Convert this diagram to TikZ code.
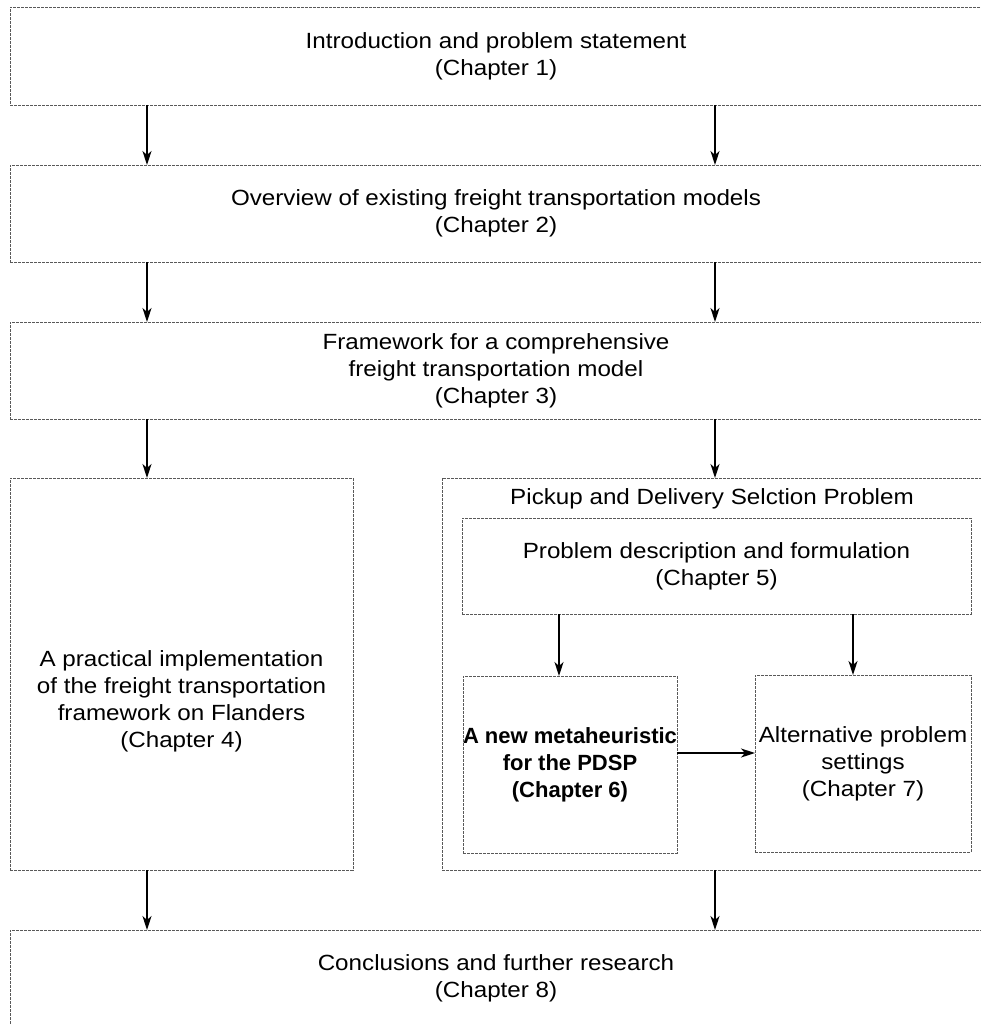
\documentclass[tikz,border=0pt]{standalone}
\usepackage{fontspec}
\setmainfont[FakeStretch=1.1]{Liberation Sans}
\newfontfamily\boldfam{Liberation Sans Bold}
\usetikzlibrary{arrows.meta}
\begin{document}
\begin{tikzpicture}[x=1pt,y=-1pt,
  box/.style={draw=black!65, line width=0.9pt, dash pattern=on 3pt off 1pt,
    rectangle, inner sep=0pt, outer sep=0pt, anchor=north west, align=center,
    font=\fontsize{22}{27}\selectfont},
  txt/.style={font=\fontsize{22}{27}\selectfont, align=center, inner sep=0pt},
  arr/.style={-{Stealth[length=14pt,width=9pt,inset=4pt]}, line width=1.5pt}]
\useasboundingbox (0,0) rectangle (981,1024);
\clip (0,0) rectangle (981,1024);
\fill[white] (0,0) rectangle (981,1024);

\node[box, minimum width=972pt, minimum height=98pt] (b1) at (10,7)
  {Introduction and problem statement\\(Chapter 1)};
\node[box, minimum width=972pt, minimum height=97pt] (b2) at (10,165)
  {Overview of existing freight transportation models\\(Chapter 2)};
\node[box, minimum width=972pt, minimum height=97pt] (b3) at (10,322)
  {Framework for a comprehensive\\freight transportation model\\(Chapter 3)};
\node[box, minimum width=343pt, minimum height=392pt] (b4) at (10,478) {};
\node[txt] (t4) at (181.5,701)
  {A practical implementation\\of the freight transportation\\framework on Flanders\\(Chapter 4)};
\node[box, minimum width=540pt, minimum height=392pt] (pd) at (442,478) {};
\node[txt] (tpd) at (712,499) {Pickup and Delivery Selction Problem};
\node[box, minimum width=509pt, minimum height=96pt] (c5) at (462,518)
  {Problem description and formulation\\(Chapter 5)};
\node[box, minimum width=213pt, minimum height=177pt,
  font=\fontsize{22}{27}\boldfam] (c6) at (463,676)
  {A new metaheuristic\\for the PDSP\\(Chapter 6)};
\node[box, minimum width=216pt, minimum height=177pt] (c7) at (755,675)
  {Alternative problem\\settings\\(Chapter 7)};
\node[box, minimum width=972pt, minimum height=97pt] (b8) at (10,930)
  {Conclusions and further research\\(Chapter 8)};

\coordinate (xl) at (147,0);
\coordinate (xr) at (715,0);
\coordinate (x6) at (559,0);
\coordinate (x7) at (853,0);
\coordinate (ym) at (0,753);

\draw[arr] (b1.south -| xl) -- (b2.north -| xl);
\draw[arr] (b1.south -| xr) -- (b2.north -| xr);
\draw[arr] (b2.south -| xl) -- (b3.north -| xl);
\draw[arr] (b2.south -| xr) -- (b3.north -| xr);
\draw[arr] (b3.south -| xl) -- (b4.north -| xl);
\draw[arr] (b3.south -| xr) -- (pd.north -| xr);
\draw[arr] (c5.south -| x6) -- (c6.north -| x6);
\draw[arr] (c5.south -| x7) -- (c7.north -| x7);
\draw[arr] (c6.east |- ym) -- (c7.west |- ym);
\draw[arr] (b4.south -| xl) -- (b8.north -| xl);
\draw[arr] (pd.south -| xr) -- (b8.north -| xr);
\end{tikzpicture}
\end{document}
